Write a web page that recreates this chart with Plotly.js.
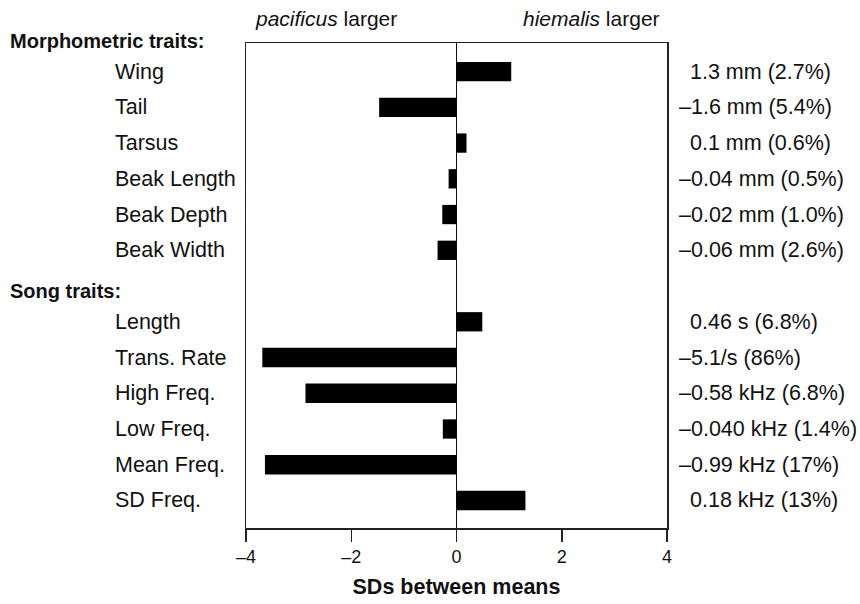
<!DOCTYPE html>
<html>
<head>
<meta charset="utf-8">
<script src="https://cdn.plot.ly/plotly-3.0.1.min.js"></script>
<style>html,body{margin:0;padding:0;background:#fff;}#chart{width:860px;height:604px;}</style>
</head>
<body>
<div id="chart"></div>
<script>
// Categories (group headers included as empty rows)
const categories = ["Morphometric traits:", "Wing", "Tail", "Tarsus", "Beak Length", "Beak Depth", "Beak Width",
  "Song traits:", "Length", "Trans. Rate", "High Freq.", "Low Freq.", "Mean Freq.", "SD Freq."];
const headers = ["Morphometric traits:", "Song traits:"];
// SDs between means
const sdValues = [null, 1.04, -1.47, 0.19, -0.15, -0.27, -0.36,
  null, 0.49, -3.69, -2.87, -0.26, -3.64, 1.31];
// Raw differences shown at right
const diffLabels = ["", "1.3 mm (2.7%)", "\u20131.6 mm (5.4%)", "0.1 mm (0.6%)", "\u20130.04 mm (0.5%)", "\u20130.02 mm (1.0%)", "\u20130.06 mm (2.6%)",
  "", "0.46 s (6.8%)", "\u20135.1/s (86%)", "\u20130.58 kHz (6.8%)", "\u20130.040 kHz (1.4%)", "\u20130.99 kHz (17%)", "0.18 kHz (13%)"];
const xTickVals = [-4, -2, 0, 2, 4];
const xTickText = ["\u20134", "\u20132", "0", "2", "4"];

const FONT = "Liberation Sans, Arial, Helvetica, sans-serif";
const TXT = "#111";

const trace = {
  type: "bar",
  orientation: "h",
  x: sdValues,
  y: categories,
  width: 0.54,
  marker: {color: "#000", line: {width: 0}},
  hoverinfo: "skip"
};

const annotations = [];
categories.forEach((c, i) => {
  const isHeader = headers.includes(c);
  if (isHeader) {
    // anchor on the following row so it is never clipped by the axis range
    annotations.push({
      xref: "paper", yref: "y", x: -0.565, y: categories[i + 1], yshift: 31,
      xanchor: "left", yanchor: "middle", showarrow: false,
      text: "<b>" + c + "</b>",
      font: {family: FONT, size: 20, color: TXT}
    });
  } else {
    annotations.push({
      xref: "paper", yref: "y", x: -0.316, y: c,
      xanchor: "left", yanchor: "middle", showarrow: false,
      text: c,
      font: {family: FONT, size: 21.5, color: TXT}
    });
  }
  if (diffLabels[i]) {
    const neg = diffLabels[i].startsWith("\u2013");
    annotations.push({
      xref: "paper", yref: "y", x: 1, y: c, xshift: neg ? 10 : 21,
      xanchor: "left", yanchor: "middle", showarrow: false,
      text: diffLabels[i],
      font: {family: FONT, size: 21.5, color: TXT}
    });
  }
});
annotations.push({
  xref: "paper", yref: "paper", x: 0.016, y: 1.05, xanchor: "left", yanchor: "middle",
  showarrow: false, text: "<i>pacificus</i> larger", font: {family: FONT, size: 21, color: TXT}
});
annotations.push({
  xref: "paper", yref: "paper", x: 0.988, y: 1.05, xanchor: "right", yanchor: "middle",
  showarrow: false, text: "<i>hiemalis</i> larger", font: {family: FONT, size: 21, color: TXT}
});

const layout = {
  width: 860, height: 604,
  margin: {l: 246, r: 193, t: 43, b: 76, pad: 0},
  paper_bgcolor: "#fff", plot_bgcolor: "#fff",
  showlegend: false,
  font: {family: FONT, color: TXT},
  xaxis: {
    range: [-4, 4], tickvals: xTickVals, ticktext: xTickText,
    ticks: "outside", ticklen: 12, tickwidth: 1.5, tickcolor: "#222",
    showline: true, linecolor: "#222", linewidth: 1.5, mirror: true,
    showgrid: false, zeroline: true, zerolinecolor: "#111", zerolinewidth: 1.5,
    tickfont: {family: FONT, size: 18, color: TXT},
    title: {text: "<b>SDs between means</b>", font: {family: FONT, size: 21.5, color: TXT}, standoff: 13},
    fixedrange: true
  },
  yaxis: {
    type: "category", categoryorder: "array", categoryarray: categories,
    range: [13.77, 0.2],
    showticklabels: false, ticks: "",
    showline: true, linecolor: "#222", linewidth: 1.5, mirror: true,
    showgrid: false, zeroline: false, fixedrange: true
  },
  annotations: annotations
};

Plotly.newPlot("chart", [trace], layout, {displayModeBar: false, staticPlot: true});
</script>
</body>
</html>
